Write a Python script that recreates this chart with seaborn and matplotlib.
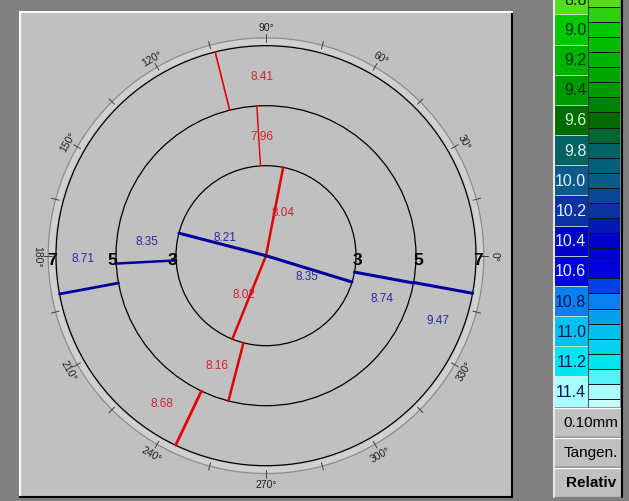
import numpy as np
import pandas as pd
import seaborn as sns
import matplotlib.pyplot as plt
from matplotlib.colors import ListedColormap, to_rgb
from matplotlib.patches import Circle, Wedge, Rectangle

# zone diameters (mm)
zones = [3, 5, 7]

# steep meridian (red): zone index, half-meridian angle (deg), radius value (mm)
red_zone = [0, 0, 1, 1, 2, 2]
red_angle = [79, 248, 93.5, 255.5, 104, 244.5]
red_value = [8.04, 8.02, 7.96, 8.16, 8.41, 8.68]

# flat meridian (blue)
blue_zone = [0, 0, 1, 1, 2, 2]
blue_angle = [165.5, 343, 183, 349.5, 190.5, 349.7]
blue_value = [8.21, 8.35, 8.35, 8.74, 8.71, 9.47]

# colour scale
scale_labels = ["8.8", "9.0", "9.2", "9.4", "9.6", "9.8", "10.0", "10.2",
                "10.4", "10.6", "10.8", "11.0", "11.2", "11.4"]
scale_colors = ["#58dc20", "#00c800", "#00b200", "#009a00", "#006c00", "#006262",
                "#0a5a8c", "#0a32a0", "#0000c8", "#0000dc", "#0a80f0", "#00c0f0",
                "#00e6f0", "#a8ffff"]
fine_levels = [8.8, 8.9, 9.0, 9.1, 9.2, 9.3, 9.4, 9.5, 9.6, 9.7, 9.8, 9.9, 10.0, 10.1,
               10.2, 10.3, 10.4, 10.5, 10.6, 10.7, 10.8, 10.9, 11.0, 11.1, 11.2, 11.3,
               11.4, 11.5]
box_labels = ["0.10mm", "Tangen.", "Relativ"]

# label placement (mm from centre) - style only
red_text_pos = [(0.28, 0.73), (-0.37, -0.64), (-0.07, 2.0), (-0.82, -1.82),
                (-0.07, 3.0), (-1.73, -2.46)]
blue_text_pos = [(-0.68, 0.31), (0.68, -0.34), (-1.98, 0.24), (1.93, -0.71),
                 (-3.05, -0.04), (2.87, -1.07)]
scale_text_colors = ["#003000", "#003000", "#003000", "#003000", "#c8ffc8", "#e0f0f0",
                     "#e0f0ff", "#e0f0ff", "#e0f0ff", "#e0f0ff", "#001850", "#001850",
                     "#001850", "#001850"]

sns.set_style("white")
plt.rcParams['font.family'] = ['Liberation Sans', 'DejaVu Sans']

W, H = 629, 502
fig = plt.figure(figsize=(W / 100, H / 100), dpi=100, facecolor="#808080")


def px_axes(x0, y0, x1, y1):
    return fig.add_axes([x0 / W, 1 - y1 / H, (x1 - x0) / W, (y1 - y0) / H])


# ---- main panel ----
cx, cy, scale = 266, 256.7, 60.0
ax = px_axes(20, 13, 512, 498)
ax.set_facecolor("#c0c0c0")
ax.set_xlim((20 - cx) / scale, (512 - cx) / scale)
ax.set_ylim((cy - 498) / scale, (cy - 13) / scale)

radii = [d / 2 for d in zones]
inner = [0] + radii[:-1]

# degree ring
ax.add_patch(Wedge((0, 0), 3.63, 0, 360, width=0.11, facecolor="#d0d0d0", edgecolor="none"))
ax.add_patch(Circle((0, 0), 3.63, fill=False, edgecolor="#8c8c8c", lw=0.9))
for a in range(0, 360, 15):
    t = np.radians(a)
    ax.plot([3.57 * np.cos(t), 3.70 * np.cos(t)], [3.57 * np.sin(t), 3.70 * np.sin(t)],
            color="#404040", lw=0.7)
    if a % 30 == 0:
        rot = a - 90
        while rot >= 90:
            rot -= 180
        while rot < -90:
            rot += 180
        ax.text(3.81 * np.cos(t), 3.81 * np.sin(t), f"{a}°", rotation=rot, fontsize=7.5,
                color="#202020", ha="center", va="center", rotation_mode="anchor")

for r in radii:
    ax.add_patch(Circle((0, 0), r, fill=False, edgecolor="black", lw=0.9))

# meridian segments
rows = []
colors, widths = {}, {}
red_w = [1.8, 1.8, 1.0, 1.8, 1.2, 2.0]
blue_w = [2.2, 2.2, 1.8, 2.2, 2.0, 2.2]
for kind, zs, angs, ws, col in [("s", red_zone, red_angle, red_w, "#e00000"),
                                ("f", blue_zone, blue_angle, blue_w, "#0000a0")]:
    for i, (z, a) in enumerate(zip(zs, angs)):
        name = f"{kind}{i}"
        t = np.radians(a)
        for r in (inner[z], radii[z]):
            rows.append({"seg": name, "x": r * np.cos(t), "y": r * np.sin(t)})
        colors[name] = col
        widths[name] = ws[i]
seg_df = pd.DataFrame(rows)
sns.lineplot(data=seg_df, x="x", y="y", hue="seg", size="seg", palette=colors,
             sizes=widths, estimator=None, sort=False, legend=False, ax=ax)

for v, (x, y) in zip(red_value, red_text_pos):
    ax.text(x, y, f"{v:.2f}", color="#d02030", fontsize=8.5, ha="center", va="center")
for v, (x, y) in zip(blue_value, blue_text_pos):
    ax.text(x, y, f"{v:.2f}", color="#2828a8", fontsize=8.5, ha="center", va="center")

for r in radii:
    for side, off in [(-1, -0.06), (1, 0.03)]:
        ax.text(side * r + off, -0.06, f"{r * 2:g}", fontsize=12.5, color="black",
                ha="center", va="center", fontweight="bold")

ax.set(xlabel="", ylabel="", xticks=[], yticks=[])
for s in ["top", "left"]:
    ax.spines[s].set_color("white")
    ax.spines[s].set_linewidth(1.5)
for s in ["right", "bottom"]:
    ax.spines[s].set_color("black")
    ax.spines[s].set_linewidth(1.5)

# ---- colour scale ----
n = len(scale_labels)
axl = px_axes(555, 0, 588, 407.6)
sns.heatmap(np.arange(n).reshape(-1, 1), cmap=ListedColormap(scale_colors), vmin=-0.5,
            vmax=n - 0.5, cbar=False, linewidths=0,
            xticklabels=False, yticklabels=False, ax=axl)
axl.set_ylim(14.0, 0.49)
for i in range(1, n):
    axl.axhline(i, color="#d8e8d8", lw=0.6)
for i, (lab, tc) in enumerate(zip(scale_labels, scale_text_colors)):
    axl.text(0.95, i + 0.5, lab, color=tc, fontsize=11.5, ha="right", va="center")

lvl = [float(s) for s in scale_labels]
rgb = np.array([to_rgb(c) for c in scale_colors])
fine_rgb = [tuple(np.interp(v, lvl, rgb[:, k]) for k in range(3)) for v in fine_levels]
fine_rgb[-1] = (0.78, 1.0, 1.0)
m = len(fine_levels)
axr = px_axes(588, 0, 620, 407.6)
sns.heatmap(np.arange(m).reshape(-1, 1), cmap=ListedColormap(fine_rgb), vmin=-0.5,
            vmax=m - 0.5, cbar=False, linewidths=0,
            xticklabels=False, yticklabels=False, ax=axr)
axr.set_ylim(27.5, 0.48)
for j in range(1, m):
    axr.axhline(j, color="#101010", lw=0.7)

# boxes below the scale
axb = px_axes(553, 408, 622, 498)
axb.set_xlim(0, 1)
axb.set_ylim(3, 0)
axb.axis("off")
for i, lab in enumerate(box_labels):
    axb.add_patch(Rectangle((0, i), 1, 1, facecolor="#c0c0c0", edgecolor="#808080", lw=1))
    axb.plot([0.02, 0.98], [i + 0.04, i + 0.04], color="white", lw=1)
    axb.text(0.55, i + 0.5, lab, fontsize=11, ha="center", va="center", color="black",
             fontweight="bold" if i == 2 else "normal")

# frame lines around the scale
ov = fig.add_axes([0, 0, 1, 1], facecolor="none")
ov.set_xlim(0, W)
ov.set_ylim(H, 0)
ov.axis("off")
ov.plot([553.5, 553.5], [0, 498], color="#e8e8e8", lw=1.5)
ov.plot([621.5, 621.5], [0, 498], color="black", lw=1.5)
ov.plot([588, 588], [0, 407.6], color="#303030", lw=0.6)

fig.savefig("out.png", dpi=100, facecolor=fig.get_facecolor())
